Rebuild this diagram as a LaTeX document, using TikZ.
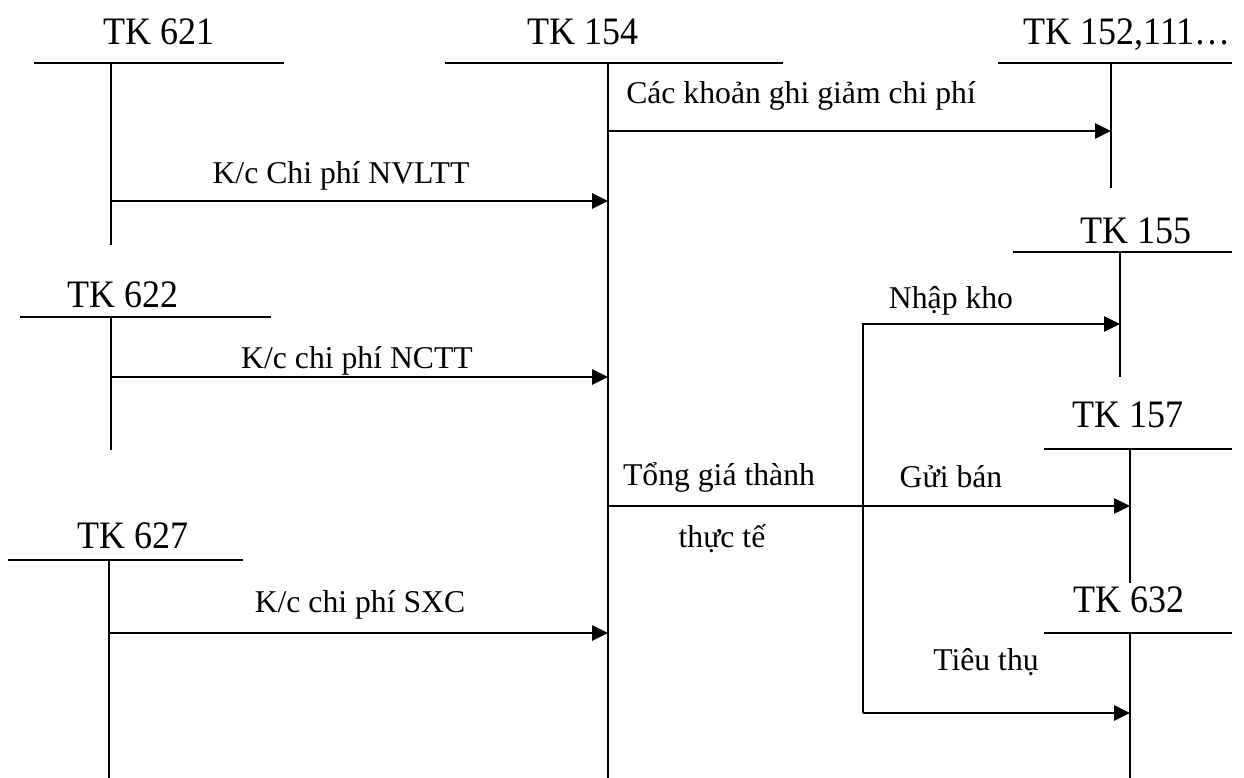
\documentclass[tikz,border=0pt]{standalone}
\usepackage{fontspec}
\setmainfont{Liberation Serif}
\usetikzlibrary{arrows.meta}
\newcommand{\ttl}[1]{\scalebox{1}[1.08]{#1}}
\begin{document}
\begin{tikzpicture}[x=1pt,y=-1pt,
  acct/.style={line width=2.1pt},
  flow/.style={line width=2.6pt,-{Triangle[length=16pt,width=15pt]}},
  title/.style={anchor=base,inner sep=0pt,font=\fontsize{36}{40}\selectfont},
  lbl/.style={anchor=base,inner sep=0pt,font=\fontsize{31.7}{35}\selectfont}]
\useasboundingbox (0,0) rectangle (1244,778);
% account T-lines
\coordinate (a621l) at (34,63);  \coordinate (a621r) at (284,63);
\coordinate (a621t) at (111,63); \coordinate (a621b) at (111,245);
\coordinate (a154l) at (445,63); \coordinate (a154r) at (783,63);
\coordinate (a154t) at (608,63); \coordinate (a154b) at (608,778);
\coordinate (a152l) at (998,63); \coordinate (a152r) at (1232,63);
\coordinate (a152t) at (1111,63); \coordinate (a152b) at (1111,188);
\coordinate (a155l) at (1013,252); \coordinate (a155r) at (1232,252);
\coordinate (a155t) at (1120,252); \coordinate (a155b) at (1120,377);
\coordinate (a622l) at (20,317); \coordinate (a622r) at (271,317);
\coordinate (a622t) at (111,317); \coordinate (a622b) at (111,450);
\coordinate (a157l) at (1044,449); \coordinate (a157r) at (1232,449);
\coordinate (a157t) at (1130,449); \coordinate (a157b) at (1130,583);
\coordinate (a627l) at (8,560); \coordinate (a627r) at (243,560);
\coordinate (a627t) at (109,560); \coordinate (a627b) at (109,778);
\coordinate (a632l) at (1044,633); \coordinate (a632r) at (1232,633);
\coordinate (a632t) at (1130,633); \coordinate (a632b) at (1130,778);
\foreach \a in {621,154,152,155,622,157,627,632}{
  \draw[acct] (a\a l) -- (a\a r);
  \draw[acct] (a\a t) -- (a\a b);
}
% titles
\node[title] (t621) at (159,45) {\ttl{TK 621}};
\node[title] (t154) at (583,45) {\ttl{TK 154}};
\node[title] (t152) at (1127,45) {\ttl{TK 152,111…}};
\node[title] (t155) at (1136,243) {\ttl{TK 155}};
\node[title] (t622) at (123,307) {\ttl{TK 622}};
\node[title] (t157) at (1128,427) {\ttl{TK 157}};
\node[title] (t627) at (133,548) {\ttl{TK 627}};
\node[title] (t632) at (1129,612) {\ttl{TK 632}};
% flow coordinates
\coordinate (g1) at (608,131);  \coordinate (g2) at (1111,131);
\coordinate (n1) at (111,201);  \coordinate (n2) at (608,201);
\coordinate (c1) at (111,377);  \coordinate (c2) at (608,377);
\coordinate (s1) at (109,633);  \coordinate (s2) at (608,633);
\coordinate (tg1) at (608,506); \coordinate (tg2) at (1130,506);
\coordinate (k0) at (863,713); \coordinate (k1) at (863,324); \coordinate (k2) at (1120,324);
\coordinate (tt2) at (1130,713);
\draw[flow] (g1) -- (g2);
\draw[flow] (n1) -- (n2);
\draw[flow] (c1) -- (c2);
\draw[flow] (s1) -- (s2);
\draw[flow] (tg1) -- (tg2);
\draw[flow] (k0) -- (k1) -- (k2);
\draw[flow] (k0) -- (tt2);
% labels
\node[lbl] (lg) at (801,104) {Các khoản ghi giảm chi phí};
\node[lbl] (ln) at (341,184) {K/c Chi phí NVLTT};
\node[lbl] (lc) at (357,368) {K/c chi phí NCTT};
\node[lbl] (ls) at (360,612) {K/c chi phí SXC};
\node[lbl] (lk) at (951,308) {Nhập kho};
\node[lbl] (lgb) at (951,487) {Gửi bán};
\node[lbl] (ltt) at (986,670) {Tiêu thụ};
\node[lbl] (ltg) at (719,485) {Tổng giá thành};
\node[lbl] (ltt2) at (722,547) {thực tế};
\end{tikzpicture}
\end{document}
